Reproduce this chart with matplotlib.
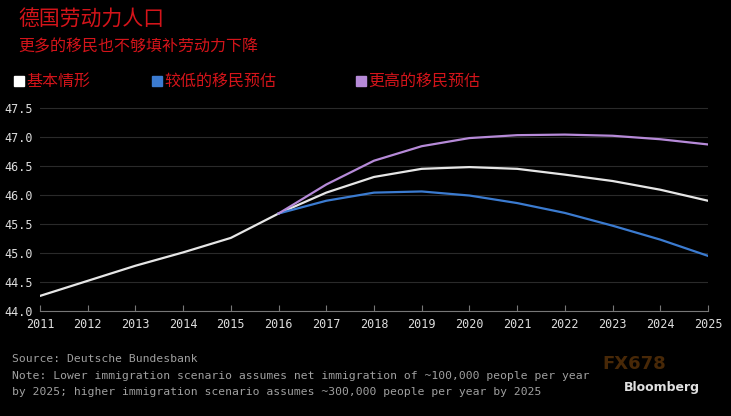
import matplotlib
matplotlib.use("Agg")
import matplotlib.pyplot as plt
import matplotlib.patches as mpatches

# Data (millions of people)
years = list(range(2011, 2026))
hist_years = [2011, 2012, 2013, 2014, 2015, 2016]
hist_vals = [44.26, 44.52, 44.78, 45.01, 45.26, 45.68]
proj_years = list(range(2016, 2026))
base_vals = [45.68, 46.04, 46.31, 46.45, 46.48, 46.45, 46.35, 46.24, 46.09, 45.90]
low_vals = [45.68, 45.90, 46.04, 46.06, 45.99, 45.86, 45.69, 45.47, 45.23, 44.95]
high_vals = [45.68, 46.18, 46.59, 46.84, 46.98, 47.03, 47.04, 47.02, 46.96, 46.87]
yticks = [44.0, 44.5, 45.0, 45.5, 46.0, 46.5, 47.0, 47.5]

title = "德国劳动力人口"
subtitle = "更多的移民也不够填补劳动力下降"
legend_labels = ["基本情形", "较低的移民预估", "更高的移民预估"]
source = "Source: Deutsche Bundesbank"
note1 = "Note: Lower immigration scenario assumes net immigration of ~100,000 people per year"
note2 = "by 2025; higher immigration scenario assumes ~300,000 people per year by 2025"

WHITE = "#e6e6e6"
BLUE = "#3b7bd0"
PURPLE = "#b68ad8"
RED = "#d4141a"
CJK = ["Noto Sans CJK SC", "DejaVu Sans"]

fig = plt.figure(figsize=(7.31, 4.16), dpi=100, facecolor="black")
ax = fig.add_axes([40 / 731, 1 - 311 / 416, 668 / 731, 206 / 416])
ax.set_facecolor("black")

ax.plot(hist_years, hist_vals, color=WHITE, lw=1.6, solid_capstyle="round")
ax.plot(proj_years, base_vals, color=WHITE, lw=1.6)
ax.plot(proj_years, low_vals, color=BLUE, lw=1.6)
ax.plot(proj_years, high_vals, color=PURPLE, lw=1.6)

ax.set_xlim(2011, 2025)
ax.set_ylim(44.0, 47.55)
ax.set_xticks(years)
ax.set_yticks(yticks)
ax.set_yticklabels([f"{v:.1f}" for v in yticks])
ax.grid(axis="y", color="#2a2a2a", lw=0.8)
ax.set_axisbelow(True)
for s in ["top", "right", "left"]:
    ax.spines[s].set_visible(False)
ax.spines["bottom"].set_color("#777777")
ax.tick_params(axis="x", direction="in", length=4, color="#777777", colors="#dddddd",
               labelsize=8.5, pad=5)
ax.tick_params(axis="y", length=0, colors="#dddddd", labelsize=8.5, pad=5)
for lab in ax.get_xticklabels() + ax.get_yticklabels():
    lab.set_fontfamily("DejaVu Sans Mono")

# Title and subtitle
fig.text(18 / 731, 1 - 20 / 416, title, color=RED, fontsize=15, family=CJK, va="center")
fig.text(18 / 731, 1 - 47 / 416, subtitle, color=RED, fontsize=11.5, family=CJK, va="center")

# Legend
for x0, col, lab in zip([14, 152, 356], ["white", BLUE, PURPLE], legend_labels):
    fig.patches.append(mpatches.Rectangle((x0 / 731, 1 - 86 / 416), 10 / 731, 10 / 416,
                                          transform=fig.transFigure, color=col))
    fig.text((x0 + 12) / 731, 1 - 81 / 416, lab, color=RED, fontsize=11.5, family=CJK,
             va="center")

# Footer
foot = dict(color="#a0a0a0", fontsize=8.2, family="DejaVu Sans Mono", va="center")
fig.text(12 / 731, 1 - 359 / 416, source, **foot)
fig.text(12 / 731, 1 - 376 / 416, note1, **foot)
fig.text(12 / 731, 1 - 392 / 416, note2, **foot)
fig.text(602 / 731, 1 - 364 / 416, "FX678", color="#a05a10", fontsize=13, alpha=0.45,
         weight="bold", va="center", ha="left")
fig.text(700 / 731, 1 - 387 / 416, "Bloomberg", color="#e0e0e0", fontsize=9,
         weight="bold", va="center", ha="right")

fig.savefig("out.png", dpi=100, facecolor="black")
